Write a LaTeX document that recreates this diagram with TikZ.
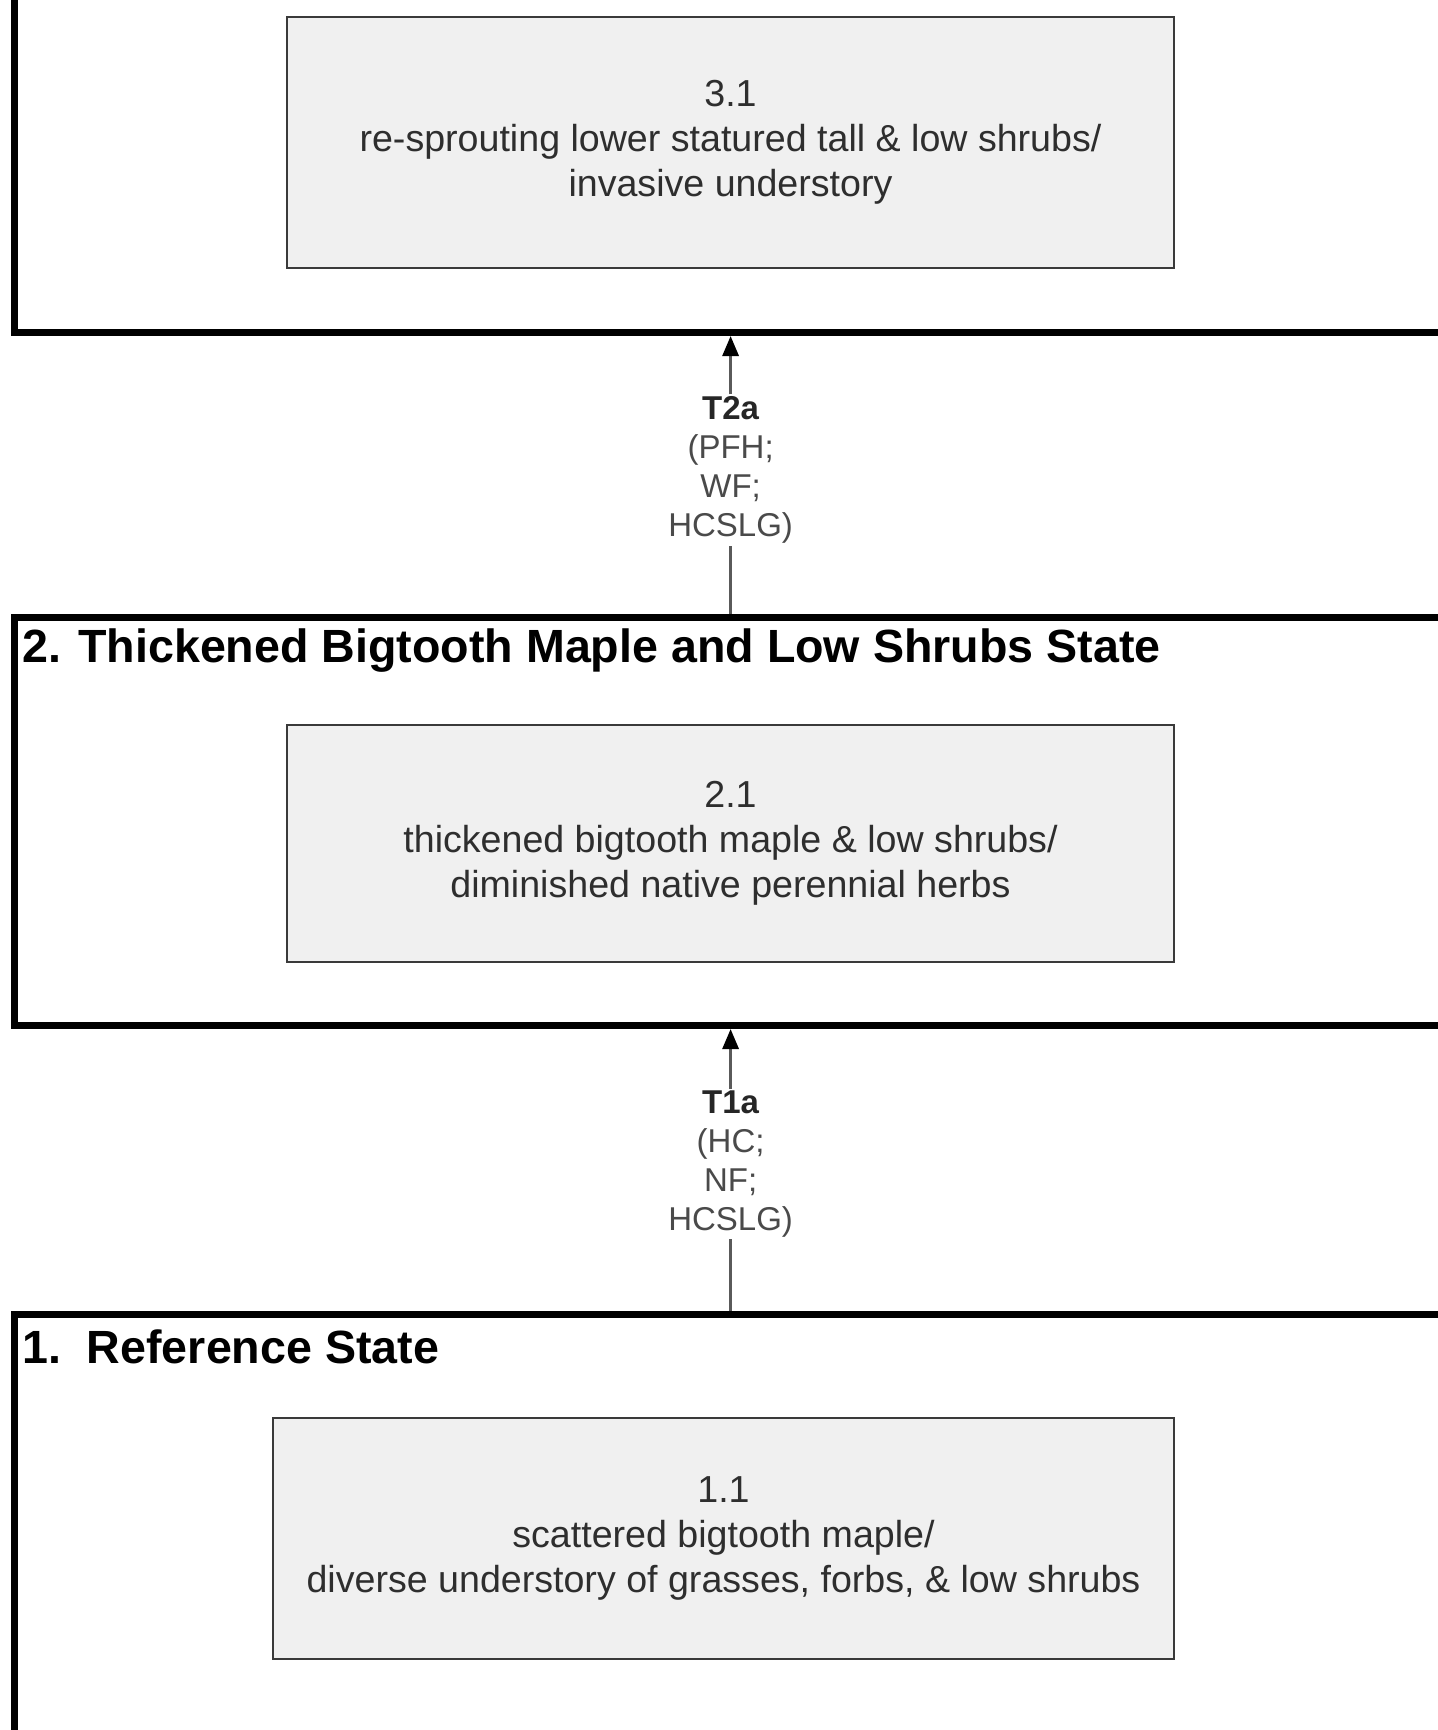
\documentclass[tikz,border=0pt]{standalone}
\usepackage{fontspec}
\setmainfont{Liberation Sans}
\usetikzlibrary{arrows.meta}
\definecolor{boxfill}{HTML}{F0F0F0}
\definecolor{boxline}{HTML}{3A3A3A}
\definecolor{txt}{HTML}{2E2E2E}
\definecolor{lbltxt}{HTML}{4A4A4A}
\definecolor{arrline}{HTML}{5A5A5A}
\begin{document}
\begin{tikzpicture}[x=1pt,y=-1pt,
  statebox/.style={draw=black, line width=7pt, fill=none, rectangle, anchor=north west, inner sep=0pt},
  statetitle/.style={anchor=west, font=\fontsize{46.6}{56}\selectfont\bfseries, text=black, inner sep=0pt},
  inbox/.style={draw=boxline, line width=2.5pt, fill=boxfill, rectangle, align=center, inner sep=0pt,
    font=\fontsize{37.6}{45}\selectfont, text=txt},
  lbl/.style={fill=white, align=center, inner sep=2pt, font=\fontsize{33}{39}\selectfont, text=lbltxt},
  trline/.style={draw=arrline, line width=3pt},
  trarrow/.style={draw=arrline, line width=3pt, -{Triangle[length=20pt,width=16pt,color=black]}}
]
\useasboundingbox (0,0) rectangle (1438,1730);
\fill[white] (0,0) rectangle (1438,1730);
\clip (0,0) rectangle (1438,1730);

% state containers
\node[statebox, minimum width=1500pt, minimum height=429pt] (s3) at (11,-100) {};
\node[statebox, minimum width=1500pt, minimum height=408pt] (s2) at (11,614) {};
\node[statebox, minimum width=1500pt, minimum height=420pt] (s1) at (11,1311) {};

% state titles
\node[statetitle] (s2t) at (22,651) {2. Thickened Bigtooth Maple and Low Shrubs State};
\node[statetitle] (s1t) at (22,1347) {1.\ \ Reference State};

% community phase boxes
\node[inbox, minimum width=887pt, minimum height=251pt] (b31) at (730.5,142.5)
  {3.1\\re-sprouting lower statured tall \& low shrubs/\\invasive understory};
\node[inbox, minimum width=887pt, minimum height=237pt] (b21) at (730.5,843.5)
  {2.1\\thickened bigtooth maple \& low shrubs/\\diminished native perennial herbs};
\node[inbox, minimum width=901pt, minimum height=241pt] (b11) at (723.5,1538.5)
  {1.1\\scattered bigtooth maple/\\diverse understory of grasses, forbs, \& low shrubs};

% transitions
\node[lbl] (t2a) at (730.6,470) {\textbf{\color{black!85}T2a}\\(PFH;\\WF;\\HCSLG)};
\draw[trline] (s2.north -| t2a) -- (t2a);
\draw[trarrow] (t2a) -- (s3.south -| t2a);

\node[lbl] (t1a) at (730.6,1164) {\textbf{\color{black!85}T1a}\\(HC;\\NF;\\HCSLG)};
\draw[trline] (s1.north -| t1a) -- (t1a);
\draw[trarrow] (t1a) -- (s2.south -| t1a);
\end{tikzpicture}
\end{document}
